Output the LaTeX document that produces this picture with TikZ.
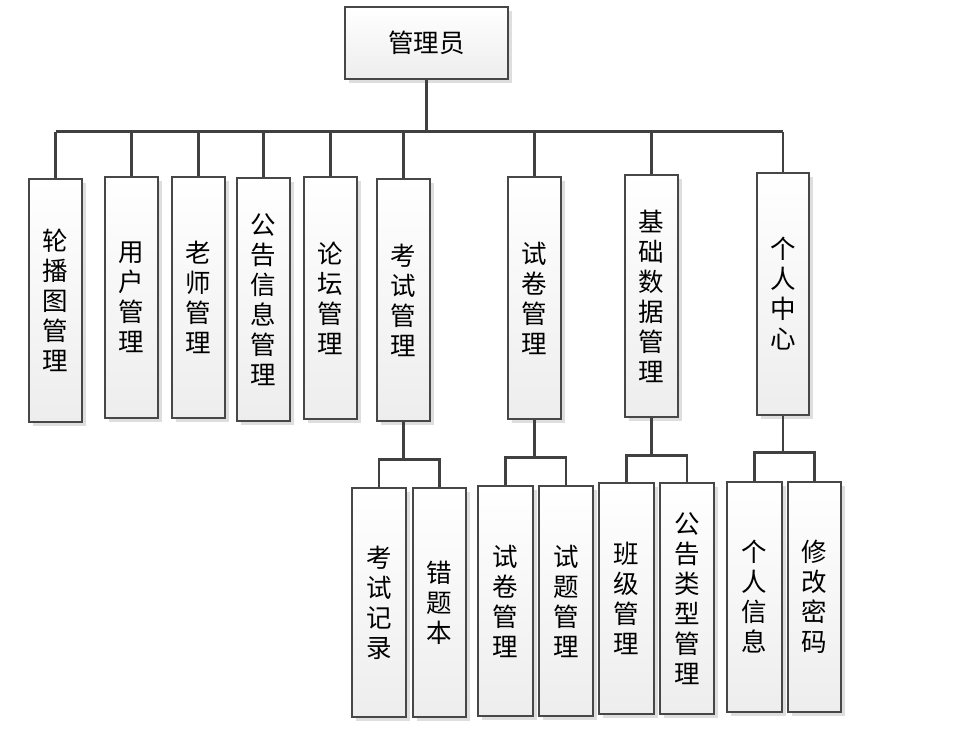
\documentclass[tikz,border=0pt]{standalone}
\usepackage{fontspec}
\newfontfamily\cjk{Noto Sans CJK SC}
\usetikzlibrary{shadows}
\begin{document}
\begin{tikzpicture}[x=1pt,y=-1pt,
  box/.style={draw=black!72, line width=1.1pt, top color=white, bottom color=black!7,
    drop shadow={shadow xshift=3.5pt, shadow yshift=-3.5pt, fill=black!13, opacity=1},
    inner sep=0pt, align=center, font=\cjk\fontsize{25.5}{30}\selectfont},
  tbox/.style={box, minimum width=53pt, minimum height=242pt},
  sbox/.style={box, minimum width=54pt, minimum height=230pt},
  link/.style={draw=black!75, line width=2.4pt}]
\useasboundingbox (0,0) rectangle (961,729);
% root
\node[box, minimum width=163pt, minimum height=72pt] (root) at (426.5,43) {管理员};
% level 1
\node[tbox, minimum height=243pt] (a1) at (55.5,300.5) {轮\\播\\图\\管\\理};
\node[tbox, minimum height=241pt] (a2) at (131.5,297.5) {用\\户\\管\\理};
\node[tbox, minimum height=241pt] (a3) at (198.5,297.5) {老\\师\\管\\理};
\node[tbox, minimum height=243pt] (a4) at (263.5,299.5) {公\\告\\信\\息\\管\\理};
\node[tbox] (a5) at (330.5,298) {论\\坛\\管\\理};
\node[tbox] (a6) at (403.5,300) {考\\试\\管\\理};
\node[tbox] (a7) at (534.5,298) {试\\卷\\管\\理};
\node[tbox] (a8) at (651.5,296) {基\\础\\数\\据\\管\\理};
\node[tbox, minimum width=52pt] (a9) at (783,294) {个\\人\\中\\心};
% level 2
\node[sbox, minimum height=229pt] (b1) at (379,602.5) {考\\试\\记\\录};
\node[sbox, minimum height=229pt, minimum width=53pt] (b2) at (439.5,602.5) {错\\题\\本};
\node[sbox, minimum width=55pt] (b3) at (505.5,601) {试\\卷\\管\\理};
\node[sbox] (b4) at (566,601) {试\\题\\管\\理};
\node[sbox, minimum width=55pt, minimum height=231pt] (b5) at (626.5,598.5) {班\\级\\管\\理};
\node[sbox, minimum height=231pt] (b6) at (687,598.5) {公\\告\\类\\型\\管\\理};
\node[sbox, minimum width=55pt] (b7) at (754.5,597) {个\\人\\信\\息};
\node[sbox, minimum width=53pt] (b8) at (814.5,597) {修\\改\\密\\码};
% bus
\coordinate (bus) at (0,131.5);
\draw[link] (a1.north |- bus) -- (a9.north |- bus);
\draw[link] (root.south) -- (root.south |- bus);
\foreach \n in {a1,a2,a3,a4,a5,a6,a7,a8,a9}
  \draw[link] (\n.north) -- (\n.north |- bus);
% sub trees
\draw[link] (b1.north) -- ++(0,-28) coordinate (m6) -| (b2.north);
\draw[link] (a6.south) -- (a6.south |- m6);
\draw[link] (b3.north) -- ++(0,-28) coordinate (m7) -| (b4.north);
\draw[link] (a7.south) -- (a7.south |- m7);
\draw[link] (b5.north) -- ++(0,-27) coordinate (m8) -| (b6.north);
\draw[link] (a8.south) -- (a8.south |- m8);
\draw[link] (b7.north) -- ++(0,-29) coordinate (m9) -| (b8.north);
\draw[link] (a9.south) -- (a9.south |- m9);
\end{tikzpicture}
\end{document}
